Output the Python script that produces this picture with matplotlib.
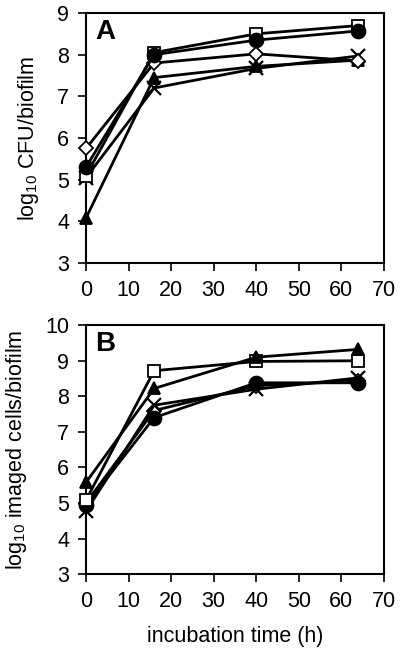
import matplotlib
matplotlib.use("Agg")
import matplotlib.pyplot as plt

plt.rcParams['font.family'] = ['Liberation Sans', 'DejaVu Sans']
plt.rcParams['mathtext.fontset'] = 'custom'
plt.rcParams['mathtext.rm'] = 'Liberation Sans'
plt.rcParams['mathtext.it'] = 'Liberation Sans'

TIME = [0, 16, 40, 64]

# panel A: log10 CFU/biofilm
A_SQUARE = [5.1, 8.05, 8.5, 8.7]
A_CIRCLE = [5.3, 8.0, 8.35, 8.57]
A_DIAMOND = [5.75, 7.8, 8.02, 7.85]
A_TRIANGLE = [4.08, 7.45, 7.72, 7.87]
A_CROSS = [5.05, 7.2, 7.67, 7.97]

# panel B: log10 imaged cells/biofilm
B_SQUARE = [5.08, 8.72, 8.98, 9.0]
B_TRIANGLE = [5.58, 8.22, 9.1, 9.32]
B_CROSS = [4.77, 7.75, 8.2, 8.52]
B_CIRCLE = [4.94, 7.4, 8.38, 8.38]
B_DIAMOND = [5.0, 7.6, 8.3, 8.43]

STYLES = {
    'square': dict(marker='s', mfc='white', ms=9),
    'circle': dict(marker='o', mfc='black', ms=10),
    'diamond': dict(marker='D', mfc='white', ms=7),
    'triangle': dict(marker='^', mfc='black', ms=9),
    'cross': dict(marker='x', mfc='black', ms=10, mew=1.6),
}


def draw(ax, series, ylim, letter, ylabel):
    for name, vals in series:
        st = dict(color='black', lw=2.0, mec='black', mew=1.3)
        st.update(STYLES[name])
        ax.plot(TIME, vals, **st, clip_on=False, zorder=3)
    ax.set_xlim(0, 70)
    ax.set_ylim(*ylim)
    ax.set_xticks(range(0, 71, 10))
    ax.set_yticks(range(ylim[0], ylim[1] + 1))
    ax.tick_params(direction='out', length=6, width=1.2, labelsize=15.5, pad=6)
    for sp in ax.spines.values():
        sp.set_linewidth(1.5)
    ax.text(0.03, 0.975, letter, transform=ax.transAxes, ha='left', va='top',
            fontsize=20, fontweight='bold')
    ax.set_ylabel(ylabel, fontsize=15.5, labelpad=12)


fig = plt.figure(figsize=(4.0, 6.51), dpi=100)
ax1 = fig.add_axes([0.215, 0.596, 0.745, 0.384])
ax2 = fig.add_axes([0.215, 0.118, 0.745, 0.3825])

draw(ax1, [('cross', A_CROSS), ('triangle', A_TRIANGLE), ('diamond', A_DIAMOND),
           ('square', A_SQUARE), ('circle', A_CIRCLE)],
     (3, 9), 'A', r'log$_{10}$ CFU/biofilm')
draw(ax2, [('diamond', B_DIAMOND), ('cross', B_CROSS), ('circle', B_CIRCLE),
           ('square', B_SQUARE), ('triangle', B_TRIANGLE)],
     (3, 10), 'B', r'log$_{10}$ imaged cells/biofilm')
ax2.set_xlabel('incubation time (h)', fontsize=15.5, labelpad=10)

fig.savefig('out.png', dpi=100)
